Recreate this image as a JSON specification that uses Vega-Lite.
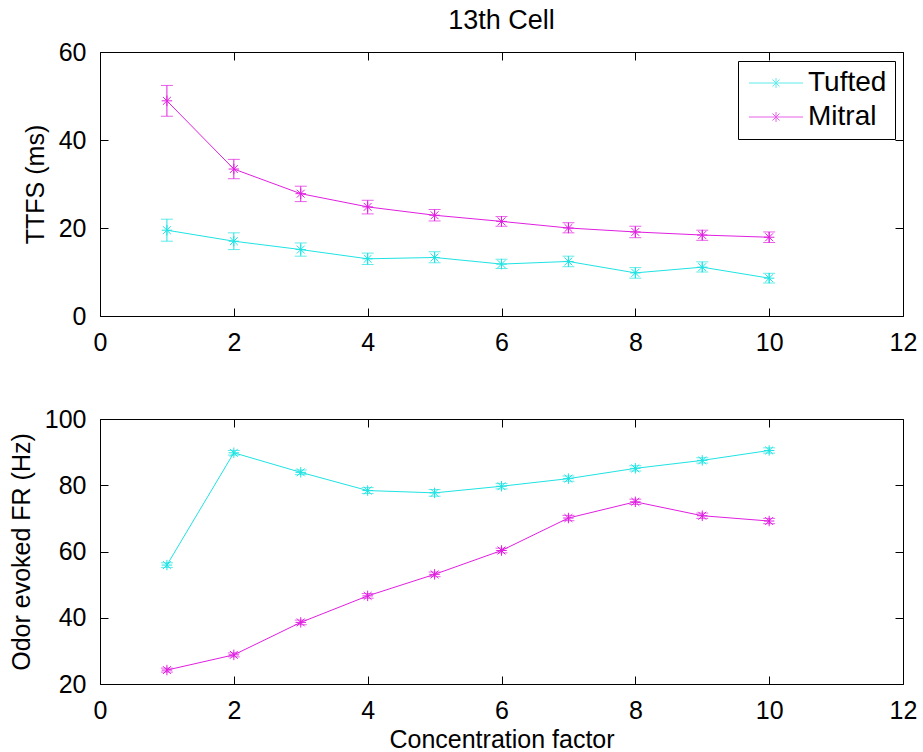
{
  "$schema": "https://vega.github.io/schema/vega-lite/v6.json",
  "padding": {"left": 8, "top": 6, "right": 4, "bottom": 0},
  "background": "white",
  "config": {
    "font": "Liberation Sans",
    "view": {"stroke": "black", "strokeWidth": 1},
    "axis": {
      "domain": false,
      "grid": false,
      "ticks": true,
      "tickSize": -8,
      "tickColor": "black",
      "tickWidth": 1,
      "labelFontSize": 25,
      "labelColor": "black",
      "labelFont": "Liberation Sans",
      "labelPadding": 22,
      "labelFlush": false,
      "titleFontSize": 25,
      "titleFontWeight": "normal",
      "titleColor": "black",
      "titleFont": "Liberation Sans"
    }
  },
  "datasets": {
    "ttfs": [
      {"cell": "Tufted", "x": 1, "y": 19.5, "lo": 17.0, "hi": 22.0},
      {"cell": "Tufted", "x": 2, "y": 17.0, "lo": 15.1, "hi": 18.9},
      {"cell": "Tufted", "x": 3, "y": 15.1, "lo": 13.6, "hi": 16.6},
      {"cell": "Tufted", "x": 4, "y": 13.0, "lo": 11.7, "hi": 14.3},
      {"cell": "Tufted", "x": 5, "y": 13.3, "lo": 12.1, "hi": 14.6},
      {"cell": "Tufted", "x": 6, "y": 11.8, "lo": 10.8, "hi": 12.9},
      {"cell": "Tufted", "x": 7, "y": 12.4, "lo": 11.2, "hi": 13.6},
      {"cell": "Tufted", "x": 8, "y": 9.8, "lo": 8.6, "hi": 11.0},
      {"cell": "Tufted", "x": 9, "y": 11.1, "lo": 10.0, "hi": 12.3},
      {"cell": "Tufted", "x": 10, "y": 8.6, "lo": 7.5, "hi": 9.7},
      {"cell": "Mitral", "x": 1, "y": 48.9, "lo": 45.4, "hi": 52.4},
      {"cell": "Mitral", "x": 2, "y": 33.4, "lo": 31.2, "hi": 35.6},
      {"cell": "Mitral", "x": 3, "y": 27.8, "lo": 26.0, "hi": 29.5},
      {"cell": "Mitral", "x": 4, "y": 24.8, "lo": 23.2, "hi": 26.3},
      {"cell": "Mitral", "x": 5, "y": 22.9, "lo": 21.6, "hi": 24.2},
      {"cell": "Mitral", "x": 6, "y": 21.5, "lo": 20.4, "hi": 22.6},
      {"cell": "Mitral", "x": 7, "y": 20.0, "lo": 18.9, "hi": 21.2},
      {"cell": "Mitral", "x": 8, "y": 19.1, "lo": 17.8, "hi": 20.4},
      {"cell": "Mitral", "x": 9, "y": 18.4, "lo": 17.2, "hi": 19.5},
      {"cell": "Mitral", "x": 10, "y": 17.9, "lo": 16.7, "hi": 19.1}
    ],
    "fr": [
      {"cell": "Tufted", "x": 1, "y": 55.9, "lo": 55.2, "hi": 56.6},
      {"cell": "Tufted", "x": 2, "y": 89.8, "lo": 89.1, "hi": 90.5},
      {"cell": "Tufted", "x": 3, "y": 83.9, "lo": 83.2, "hi": 84.6},
      {"cell": "Tufted", "x": 4, "y": 78.4, "lo": 77.5, "hi": 79.3},
      {"cell": "Tufted", "x": 5, "y": 77.7, "lo": 76.7, "hi": 78.7},
      {"cell": "Tufted", "x": 6, "y": 79.7, "lo": 78.9, "hi": 80.5},
      {"cell": "Tufted", "x": 7, "y": 82.0, "lo": 81.2, "hi": 82.8},
      {"cell": "Tufted", "x": 8, "y": 85.1, "lo": 84.3, "hi": 85.9},
      {"cell": "Tufted", "x": 9, "y": 87.5, "lo": 86.7, "hi": 88.3},
      {"cell": "Tufted", "x": 10, "y": 90.5, "lo": 89.7, "hi": 91.3},
      {"cell": "Mitral", "x": 1, "y": 24.2, "lo": 23.6, "hi": 24.8},
      {"cell": "Mitral", "x": 2, "y": 28.8, "lo": 28.2, "hi": 29.4},
      {"cell": "Mitral", "x": 3, "y": 38.6, "lo": 37.9, "hi": 39.3},
      {"cell": "Mitral", "x": 4, "y": 46.6, "lo": 45.9, "hi": 47.3},
      {"cell": "Mitral", "x": 5, "y": 53.1, "lo": 52.4, "hi": 53.8},
      {"cell": "Mitral", "x": 6, "y": 60.3, "lo": 59.6, "hi": 61.0},
      {"cell": "Mitral", "x": 7, "y": 70.1, "lo": 69.3, "hi": 70.9},
      {"cell": "Mitral", "x": 8, "y": 75.0, "lo": 74.2, "hi": 75.8},
      {"cell": "Mitral", "x": 9, "y": 70.8, "lo": 70.0, "hi": 71.6},
      {"cell": "Mitral", "x": 10, "y": 69.2, "lo": 68.4, "hi": 70.0}
    ]
  },
  "spacing": 50,
  "resolve": {"legend": {"color": "independent"}},
  "vconcat": [
    {
      "width": 803,
      "height": 264,
      "title": {"text": "13th Cell", "fontSize": 27, "fontWeight": "normal", "font": "Liberation Sans", "color": "black", "anchor": "middle", "offset": 5},
      "data": {"name": "ttfs"},
      "layer": [
        {
          "mark": {"type": "line", "strokeWidth": 1},
          "encoding": {
            "x": {"field": "x", "type": "quantitative", "scale": {"domain": [0, 12], "nice": false}, "axis": {"orient": "bottom", "values": [0, 2, 4, 6, 8, 10, 12], "title": null}},
            "y": {"field": "y", "type": "quantitative", "scale": {"domain": [0, 60], "nice": false}, "axis": {"orient": "left", "values": [0, 20, 40, 60], "title": "TTFS (ms)", "titlePadding": 10}},
            "color": {
              "field": "cell", "type": "nominal",
              "scale": {"domain": ["Tufted", "Mitral"], "range": ["#1fe3e3", "#e01fe0"]},
              "legend": {
                "orient": "none", "legendX": 638, "legendY": 9, "title": null,
                "symbolType": "M-1.57,0H6.14M2.29,-0.71V0.71M1.79,-0.5L2.79,0.5M1.79,0.5L2.79,-0.5",
                "symbolSize": 196, "symbolStrokeWidth": 1, "symbolFillColor": "transparent",
                "labelFontSize": 28, "labelFont": "Liberation Sans", "labelColor": "black", "labelOffset": 34,
                "padding": 8, "rowPadding": 6, "strokeColor": "black", "fillColor": "white"
              }
            }
          }
        },
        {
          "mark": {"type": "errorbar", "thickness": 1, "ticks": {"size": 12}},
          "encoding": {
            "x": {"field": "x", "type": "quantitative", "axis": null},
            "y": {"field": "lo", "type": "quantitative", "axis": null},
            "y2": {"field": "hi"},
            "color": {"field": "cell", "type": "nominal"}
          }
        },
        {
          "mark": {"type": "point", "shape": "M-1,0H1M0,-1V1M-0.75,-0.75L0.75,0.75M-0.75,0.75L0.75,-0.75", "filled": false, "size": 110, "strokeWidth": 1, "opacity": 1},
          "encoding": {
            "x": {"field": "x", "type": "quantitative", "axis": {"orient": "top", "values": [0, 2, 4, 6, 8, 10, 12], "labels": false, "title": null}},
            "y": {"field": "y", "type": "quantitative", "axis": {"orient": "right", "values": [0, 20, 40, 60], "labels": false, "title": null}},
            "color": {"field": "cell", "type": "nominal"}
          }
        }
      ]
    },
    {
      "width": 803,
      "height": 265,
      "data": {"name": "fr"},
      "layer": [
        {
          "mark": {"type": "line", "strokeWidth": 1},
          "encoding": {
            "x": {"field": "x", "type": "quantitative", "scale": {"domain": [0, 12], "nice": false}, "axis": {"orient": "bottom", "values": [0, 2, 4, 6, 8, 10, 12], "title": "Concentration factor", "titlePadding": 4}},
            "y": {"field": "y", "type": "quantitative", "scale": {"domain": [20, 100], "nice": false}, "axis": {"orient": "left", "values": [20, 40, 60, 80, 100], "title": "Odor evoked FR (Hz)", "titlePadding": 10}},
            "color": {"field": "cell", "type": "nominal", "scale": {"domain": ["Tufted", "Mitral"], "range": ["#1fe3e3", "#e01fe0"]}, "legend": null}
          }
        },
        {
          "mark": {"type": "errorbar", "thickness": 1, "ticks": {"size": 12}},
          "encoding": {
            "x": {"field": "x", "type": "quantitative", "axis": null},
            "y": {"field": "lo", "type": "quantitative", "axis": null},
            "y2": {"field": "hi"},
            "color": {"field": "cell", "type": "nominal", "legend": null}
          }
        },
        {
          "mark": {"type": "point", "shape": "M-1,0H1M0,-1V1M-0.75,-0.75L0.75,0.75M-0.75,0.75L0.75,-0.75", "filled": false, "size": 110, "strokeWidth": 1, "opacity": 1},
          "encoding": {
            "x": {"field": "x", "type": "quantitative", "axis": {"orient": "top", "values": [0, 2, 4, 6, 8, 10, 12], "labels": false, "title": null}},
            "y": {"field": "y", "type": "quantitative", "axis": {"orient": "right", "values": [20, 40, 60, 80, 100], "labels": false, "title": null}},
            "color": {"field": "cell", "type": "nominal", "legend": null}
          }
        }
      ]
    }
  ]
}
